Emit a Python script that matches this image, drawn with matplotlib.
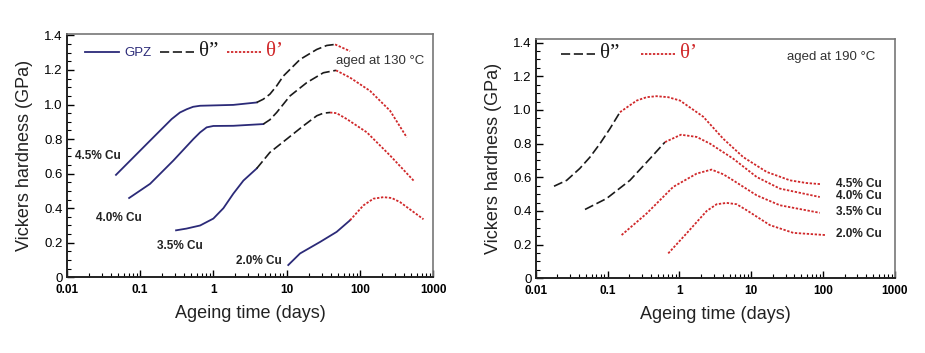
import matplotlib
matplotlib.use("Agg")
import matplotlib.pyplot as plt
from matplotlib.lines import Line2D
from matplotlib.ticker import FixedLocator, FuncFormatter, MultipleLocator, LogLocator, NullFormatter

plt.rcParams["font.family"] = ["Liberation Sans", "DejaVu Sans"]

# ---------------- data (days, GPa) ----------------
# Left panel: aged at 130 C
L45_gpz_t = [0.047, 0.137, 0.27, 0.35, 0.434, 0.53, 0.66, 1.87, 3.9]
L45_gpz_h = [0.593, 0.791, 0.916, 0.954, 0.973, 0.987, 0.993, 0.998, 1.012]
L45_t2_t = [3.9, 4.8, 5.9, 7.3, 9.0, 15.2, 25.7, 35.2, 45.7]
L45_t2_h = [1.012, 1.031, 1.06, 1.108, 1.165, 1.261, 1.319, 1.342, 1.348]
L45_t1_t = [45.7, 73]
L45_t1_h = [1.348, 1.309]

L40_gpz_t = [0.071, 0.137, 0.285, 0.533, 0.66, 0.81, 1.0, 1.87, 4.8]
L40_gpz_h = [0.459, 0.541, 0.676, 0.80, 0.839, 0.868, 0.876, 0.877, 0.887]
L40_t2_t = [4.8, 5.9, 7.3, 11.1, 18.8, 31.6, 47]
L40_t2_h = [0.887, 0.912, 0.954, 1.05, 1.127, 1.184, 1.198]
L40_t1_t = [47, 73, 137, 257, 434]
L40_t1_h = [1.198, 1.156, 1.079, 0.964, 0.81]

L35_gpz_t = [0.31, 0.43, 0.66, 1.0, 1.37, 1.87, 2.57, 3.9]
L35_gpz_h = [0.272, 0.282, 0.30, 0.34, 0.40, 0.484, 0.56, 0.63]
L35_t2_t = [3.9, 5.9, 10, 16.9, 25.7, 31.6, 39]
L35_t2_h = [0.63, 0.723, 0.80, 0.877, 0.935, 0.95, 0.954]
L35_t1_t = [39, 48, 66, 124, 257, 537]
L35_t1_h = [0.954, 0.95, 0.916, 0.839, 0.705, 0.56]

L20_gpz_t = [10.5, 15.2, 28.6, 48, 73]
L20_gpz_h = [0.071, 0.138, 0.205, 0.263, 0.33]
L20_t1_t = [73, 111, 152, 209, 271, 352, 733]
L20_t1_h = [0.33, 0.416, 0.455, 0.464, 0.459, 0.435, 0.336]

# Right panel: aged at 190 C
R45_t2_t = [0.018, 0.027, 0.041, 0.057, 0.0785, 0.108, 0.149]
R45_t2_h = [0.547, 0.582, 0.652, 0.72, 0.80, 0.889, 0.987]
R45_t1_t = [0.149, 0.255, 0.35, 0.48, 0.7, 1.02, 2.15, 4.08, 7.74, 16.4, 34.6, 59, 95]
R45_t1_h = [0.987, 1.056, 1.076, 1.082, 1.076, 1.056, 0.96, 0.829, 0.72, 0.632, 0.582, 0.566, 0.559]

R40_t2_t = [0.0486, 0.097, 0.205, 0.39, 0.63]
R40_t2_h = [0.409, 0.474, 0.582, 0.711, 0.809]
R40_t1_t = [0.63, 1.05, 1.74, 2.67, 5.6, 11.9, 25, 90]
R40_t1_h = [0.809, 0.853, 0.84, 0.80, 0.711, 0.602, 0.533, 0.483]

R35_t1_t = [0.157, 0.35, 0.82, 1.74, 2.8, 4.08, 5.6, 11.9, 25, 90]
R35_t1_h = [0.257, 0.385, 0.543, 0.622, 0.646, 0.618, 0.582, 0.493, 0.434, 0.389]

R20_t1_t = [0.7, 1.26, 2.4, 3.3, 4.55, 6.27, 8.6, 18.2, 38.5, 107]
R20_t1_h = [0.148, 0.267, 0.40, 0.44, 0.448, 0.44, 0.405, 0.316, 0.27, 0.257]

x_ticks = [0.01, 0.1, 1, 10, 100, 1000]
y_ticks = [0, 0.2, 0.4, 0.6, 0.8, 1.0, 1.2, 1.4]
cu_labels = ["4.5% Cu", "4.0% Cu", "3.5% Cu", "2.0% Cu"]

# ---------------- styles ----------------
C_GPZ = "#2b2a78"
C_T2 = "#1a1a1a"
C_T1 = "#d0282a"
sty_gpz = dict(color=C_GPZ, lw=1.3, ls="-")
sty_t2 = dict(color=C_T2, lw=1.2, ls=(0, (5.5, 2.2)))
sty_t1 = dict(color=C_T1, lw=1.3, ls=(0, (1.3, 0.9)))

fig = plt.figure(figsize=(9.25, 3.53), dpi=100)
axL = fig.add_axes([0.0721, 0.2144, 0.3964, 0.6901])
axR = fig.add_axes([0.5791, 0.2116, 0.3884, 0.6771])


def style_axes(ax, ytop):
    ax.set_xscale("log")
    ax.set_xlim(0.01, 1000)
    ax.set_ylim(0, ytop)
    ax.xaxis.set_major_locator(FixedLocator(x_ticks))
    ax.xaxis.set_major_formatter(FuncFormatter(lambda v, p: f"{v:g}"))
    ax.xaxis.set_minor_locator(LogLocator(base=10, subs=range(2, 10), numticks=20))
    ax.xaxis.set_minor_formatter(NullFormatter())
    ax.yaxis.set_major_locator(FixedLocator(y_ticks))
    ax.yaxis.set_major_formatter(FuncFormatter(lambda v, p: "0" if abs(v) < 1e-9 else f"{v:.1f}"))
    ax.yaxis.set_minor_locator(MultipleLocator(0.05))
    ax.tick_params(which="both", direction="in", top=False, right=False)
    ax.tick_params(which="major", length=5, width=1.0)
    ax.tick_params(which="minor", length=3, width=0.8)
    ax.tick_params(axis="x", labelsize=8.5, pad=5)
    ax.tick_params(axis="y", labelsize=9.5, pad=3)
    for lab in ax.get_xticklabels():
        lab.set_fontweight("bold")
    for s in ["left", "bottom"]:
        ax.spines[s].set_color("#222222")
        ax.spines[s].set_linewidth(1.4)
    for s in ["top", "right"]:
        ax.spines[s].set_color("#777777")
        ax.spines[s].set_linewidth(1.2)
    ax.set_xlabel("Ageing time (days)", fontsize=13, color="#222222", labelpad=6)
    ax.set_ylabel("Vickers hardness (GPa)", fontsize=13, color="#222222", labelpad=8)


style_axes(axL, 1.41)
style_axes(axR, 1.42)

# ----- left curves -----
axL.plot(L45_gpz_t, L45_gpz_h, **sty_gpz)
axL.plot(L45_t2_t, L45_t2_h, **sty_t2)
axL.plot(L45_t1_t, L45_t1_h, **sty_t1)
axL.plot(L40_gpz_t, L40_gpz_h, **sty_gpz)
axL.plot(L40_t2_t, L40_t2_h, **sty_t2)
axL.plot(L40_t1_t, L40_t1_h, **sty_t1)
axL.plot(L35_gpz_t, L35_gpz_h, **sty_gpz)
axL.plot(L35_t2_t, L35_t2_h, **sty_t2)
axL.plot(L35_t1_t, L35_t1_h, **sty_t1)
axL.plot(L20_gpz_t, L20_gpz_h, **sty_gpz)
axL.plot(L20_t1_t, L20_t1_h, **sty_t1)

lab_kw = dict(fontsize=8.5, fontweight="bold", color="#222222", va="center", ha="left")
axL.text(0.0130, 0.704, cu_labels[0], **lab_kw)
axL.text(0.0249, 0.343, cu_labels[1], **lab_kw)
axL.text(0.169, 0.18, cu_labels[2], **lab_kw)
axL.text(2.04, 0.092, cu_labels[3], **lab_kw)
axL.text(47.2, 1.252, "aged at 130 °C", fontsize=9.5, color="#333333", va="center", ha="left")

# ----- right curves -----
axR.plot(R45_t2_t, R45_t2_h, **sty_t2)
axR.plot(R45_t1_t, R45_t1_h, **sty_t1)
axR.plot(R40_t2_t, R40_t2_h, **sty_t2)
axR.plot(R40_t1_t, R40_t1_h, **sty_t1)
axR.plot(R35_t1_t, R35_t1_h, **sty_t1)
axR.plot(R20_t1_t, R20_t1_h, **sty_t1)

axR.text(151, 0.563, cu_labels[0], **lab_kw)
axR.text(151, 0.489, cu_labels[1], **lab_kw)
axR.text(151, 0.391, cu_labels[2], **lab_kw)
axR.text(151, 0.261, cu_labels[3], **lab_kw)
axR.text(31.1, 1.313, "aged at 190 °C", fontsize=9.5, color="#333333", va="center", ha="left")

# ----- legends -----
SERIF = ["Liberation Serif", "DejaVu Serif"]


def make_legend(ax, entries, loc_xy, colsp):
    handles = [Line2D([], [], **st) for st, _, _ in entries]
    labels = [lb for _, lb, _ in entries]
    leg = ax.legend(handles, labels, loc="center left", bbox_to_anchor=loc_xy, ncol=len(entries),
                    frameon=False, fontsize=9.5, handlelength=2.6, handletextpad=0.4,
                    columnspacing=colsp, borderaxespad=0, borderpad=0)
    for txt, (_, lb, col) in zip(leg.get_texts(), entries):
        txt.set_color(col)
        if lb != "GPZ":
            txt.set_fontfamily(SERIF)
            txt.set_fontsize(15)
    return leg


make_legend(axL, [(sty_gpz, "GPZ", C_GPZ), (sty_t2, "θ\u201d", C_T2), (sty_t1, "θ\u2019", C_T1)],
            (0.05, 0.926), 0.6)
make_legend(axR, [(sty_t2, "θ\u201d", C_T2), (sty_t1, "θ\u2019", C_T1)], (0.07, 0.94), 1.6)

fig.savefig("out.png", dpi=100)
